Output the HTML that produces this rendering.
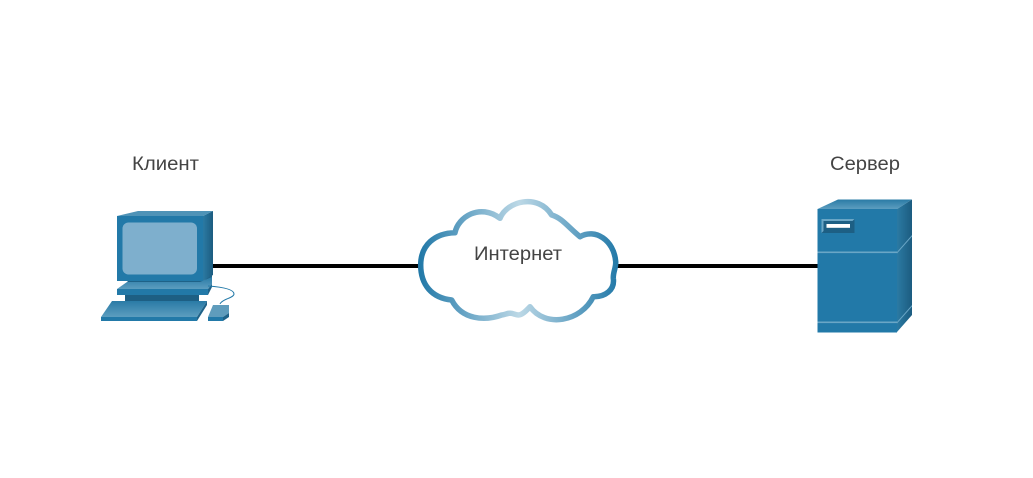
<!DOCTYPE html>
<html><head><meta charset="utf-8"><style>
html,body{margin:0;padding:0;background:#fff;width:1033px;height:478px;overflow:hidden}
svg{display:block}
text{font-family:"Liberation Sans",sans-serif;font-size:19.5px;fill:#444}
</style></head><body>
<svg width="1033" height="478" viewBox="0 0 1033 478" xmlns="http://www.w3.org/2000/svg">
<defs>
<linearGradient id="cl" gradientUnits="userSpaceOnUse" x1="420" y1="0" x2="618" y2="0">
<stop offset="0" stop-color="#2279a8"/><stop offset="0.25" stop-color="#6fa9c8"/><stop offset="0.5" stop-color="#bcd8e6"/><stop offset="0.75" stop-color="#6fa9c8"/><stop offset="1" stop-color="#2279a8"/>
</linearGradient>
<linearGradient id="top" x1="0" y1="0" x2="0" y2="1"><stop offset="0" stop-color="#2a7ba6"/><stop offset="1" stop-color="#5c9dbf"/></linearGradient>
<linearGradient id="side" x1="0" y1="0" x2="1" y2="0"><stop offset="0" stop-color="#2b7aa3"/><stop offset="1" stop-color="#1c5c80"/></linearGradient>
</defs>
<rect x="210" y="264" width="212" height="4" fill="#000"/>
<rect x="614" y="264" width="206" height="4" fill="#000"/>

<!-- Client -->
<polygon points="117,216 138,211 213,211 203,216" fill="#4f93b7"/>
<polygon points="203,216 213,211 213,275 203,281" fill="url(#side)"/>
<rect x="117" y="216" width="86" height="65" fill="#2279a8"/>
<rect x="122.5" y="222.5" width="74.5" height="52" rx="6" fill="#7eafcd"/>
<polygon points="127,281 203,281 212,275 212,278 200,284 130,284" fill="#1f6288"/>
<polygon points="117,289 127,282 200,282 212,277 212,284 208,289" fill="url(#top)"/>
<polygon points="208,289 212,284 212,287 208,295" fill="#1f6288"/>
<rect x="117" y="289" width="91" height="6" fill="#2279a8"/>
<rect x="125" y="295" width="74" height="6" fill="#1d5f84"/>
<polygon points="101,317 112,301 207,301 197,317" fill="url(#top)"/>
<polygon points="197,317 207,301 207,305 197,321" fill="#1f6288"/>
<rect x="101" y="317" width="96" height="4" fill="#2279a8"/>
<path d="M208,286 C222,287 234,289 234,294 C234,298 222,299 220,304" fill="none" stroke="#2279a8" stroke-width="1"/>
<polygon points="208,317 213,305 229,305 229,313 223,317" fill="#5f9cbc"/>
<polygon points="223,317 229,313 229,317 223,321" fill="#1f6288"/>
<rect x="208" y="317" width="15" height="4" fill="#2279a8"/>
<text x="132" y="170" textLength="67" lengthAdjust="spacingAndGlyphs">Клиент</text>

<!-- Cloud -->
<path d="M420.7,265 C420.7,245 435,233 455,232.7 C458,217 480,203 500,218.3 C507,201 538,193 551.7,215 C562,218 568,227 580,236.7 C595,228 614,240 615.7,261.7 C616,268 613,272 613.3,278.3 C615,290 605,297 593.3,296.7 C581,322 545,328 530,306.7 C526,311 522,315 518.3,315 C515,315 513,313 510,313.3 C507,313 505,315 501.7,315 C485,321 462,320 451.7,300 C432,298 420.7,285 420.7,265 Z" fill="#fff" stroke="url(#cl)" stroke-width="5.5" stroke-linejoin="round"/>
<text x="474" y="260" textLength="88" lengthAdjust="spacingAndGlyphs">Интернет</text>

<!-- Server -->
<polygon points="817.5,209 838,199.5 912,199.5 897,209" fill="url(#top)"/>
<polygon points="897,209 912,199.5 912,315 897,332" fill="url(#side)"/>
<rect x="817.5" y="209" width="79.5" height="123.5" fill="#2279a8"/>
<rect x="817.5" y="251.5" width="79.5" height="1.6" fill="#6aa6c6"/>
<rect x="817.5" y="321.5" width="79.5" height="1.6" fill="#6aa6c6"/>
<polygon points="897,252 912,235 912,236.5 897,253.5" fill="#6aa6c6"/>
<polygon points="897,322 912,305 912,306.5 897,323.5" fill="#6aa6c6"/>
<rect x="821.5" y="219" width="33" height="14" fill="#1d5f84"/>
<polygon points="821.5,219 854.5,219 852.5,221 823.5,221 823.5,231 821.5,233" fill="#6aa6c6"/>
<rect x="826.5" y="224" width="23.5" height="3.8" fill="#fff"/>
<text x="830" y="170" textLength="70" lengthAdjust="spacingAndGlyphs">Сервер</text>
</svg>
</body></html>
